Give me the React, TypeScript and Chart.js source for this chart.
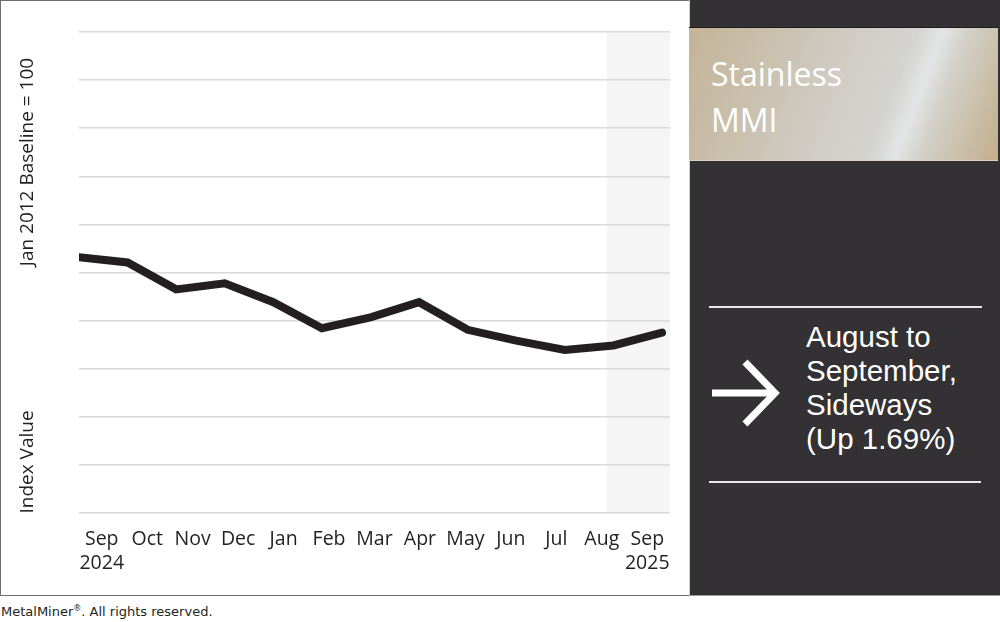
import React, { useEffect, useRef } from "react";
import { Chart, registerables } from "chart.js";

Chart.register(...registerables);

// ---- data ----
const months = ["Sep", "Oct", "Nov", "Dec", "Jan", "Feb", "Mar", "Apr", "May", "Jun", "Jul", "Aug", "Sep"];
const years = ["2024", "", "", "", "", "", "", "", "", "", "", "", "2025"];
const indexValues = [213.8, 212.5, 205.8, 207.3, 202.6, 196.1, 198.8, 202.6, 195.7, 193.0, 190.7, 191.8, 195.0];
const yMin = 150;
const yMax = 270;
const yStep = 12;
const highlightFrom = 10.86; // in month-index units (Aug onward shaded)
const xMaxIndex = 12.165;

const tickLabels = months.map((m, i) => (years[i] ? [m, years[i]] : m));

const TEXT = "#231f20";

const bandPlugin = {
  id: "band",
  beforeDraw(chart: any) {
    const { ctx, chartArea, scales } = chart;
    const x0 = scales.x.getPixelForValue(highlightFrom);
    ctx.save();
    ctx.fillStyle = "#f4f5f4";
    ctx.fillRect(x0, chartArea.top, chartArea.right - x0, chartArea.bottom - chartArea.top);
    ctx.restore();
  },
};

function MMIChart() {
  const ref = useRef<HTMLCanvasElement | null>(null);
  useEffect(() => {
    if (!ref.current) return;
    const chart = new Chart(ref.current, {
      type: "line",
      data: {
        datasets: [
          {
            data: indexValues.map((v, i) => ({ x: i, y: v })),
            borderColor: TEXT,
            borderWidth: 8,
            borderCapStyle: "round",
            borderJoinStyle: "miter",
            pointRadius: 0,
            tension: 0,
            fill: false,
          },
        ],
      },
      options: {
        animation: false,
        responsive: true,
        maintainAspectRatio: false,
        layout: { padding: { left: 79, right: 19, top: 32, bottom: 7 } },
        plugins: { legend: { display: false }, tooltip: { enabled: false } },
        scales: {
          x: {
            type: "linear",
            min: 0,
            max: xMaxIndex,
            display: false,
          },
          x2: {
            type: "category",
            position: "bottom",
            labels: tickLabels as any,
            offset: true,
            grid: { display: false, drawTicks: false },
            border: { display: false },
            ticks: {
              color: TEXT,
              padding: 14,
              maxRotation: 0,
              autoSkip: false,
              font: { family: "'Open Sans', sans-serif", size: 19.5, lineHeight: 1.23 },
            },
          },
          y: {
            min: yMin,
            max: yMax,
            ticks: { display: false, stepSize: yStep },
            border: { display: false },
            grid: { color: "#dadada", lineWidth: 1.6, drawTicks: false },
          },
        },
      },
      plugins: [bandPlugin],
    });
    return () => chart.destroy();
  }, []);
  return <canvas ref={ref} />;
}

export default function App() {
  const rotated: React.CSSProperties = {
    position: "absolute",
    left: 26,
    transform: "translate(-50%, -50%) rotate(-90deg)",
    whiteSpace: "nowrap",
    fontFamily: "'Open Sans', sans-serif",
    fontSize: 19,
    color: TEXT,
    lineHeight: "20px",
  };
  return (
    <div style={{ position: "fixed", left: 0, top: 0, width: 1000, height: 622, background: "#fff", overflow: "hidden" }}>
      {/* left panel */}
      <div
        style={{
          position: "absolute",
          left: 0,
          top: 0,
          width: 689,
          height: 596,
          boxSizing: "border-box",
          borderTop: "1.5px solid #6e6e6e",
          borderLeft: "1.5px solid #6e6e6e",
          borderBottom: "1.5px solid #6e6e6e",
        }}
      />
      <div style={{ position: "absolute", left: 0, top: 0, width: 689, height: 596 }}>
        <MMIChart />
      </div>
      <div style={{ ...rotated, top: 161.5 }}>Jan 2012 Baseline = 100</div>
      <div style={{ ...rotated, top: 461.5 }}>Index Value</div>

      {/* right panel */}
      <div
        style={{
          position: "absolute",
          left: 689,
          top: 0,
          width: 311,
          height: 596,
          boxSizing: "border-box",
          background: "#333133",
          borderLeft: "1px solid #d0d0d0",
          borderBottom: "1.5px solid #9a9a9a",
        }}
      />
      <div
        style={{
          position: "absolute",
          left: 689,
          top: 27,
          width: 309,
          height: 134,
          boxSizing: "border-box",
          borderTop: "1px solid #1e1c1e",
          borderBottom: "1px solid #d9d3c6",
          background:
            "linear-gradient(111deg, #c4b498 0%, #c9bfab 22%, #d0ccc4 45%, #d4d4d1 64%, #e3e5e5 71%, #d3d0c8 78%, #c9bda6 90%, #c2ae8c 100%)",
        }}
      />
      <div
        style={{
          position: "absolute",
          left: 711,
          top: 51,
          color: "#ffffff",
          fontFamily: "'Open Sans', sans-serif",
          fontSize: 32,
          lineHeight: "46px",
        }}
      >
        Stainless
        <br />
        MMI
      </div>

      <div style={{ position: "absolute", left: 709, top: 306, width: 273, height: 2, background: "#e8e8e8" }} />
      <div style={{ position: "absolute", left: 709, top: 481, width: 272, height: 2, background: "#e8e8e8" }} />

      <svg style={{ position: "absolute", left: 708, top: 356 }} width={80} height={76}>
        <line x1={4} y1={37} x2={64} y2={37} stroke="#ffffff" strokeWidth={7} />
        <polyline points="37,6 67,37 37,68" fill="none" stroke="#ffffff" strokeWidth={7} strokeLinejoin="miter" />
      </svg>

      <div
        style={{
          position: "absolute",
          left: 806,
          top: 320,
          color: "#ffffff",
          fontFamily: "'Liberation Sans', Arial, sans-serif",
          fontSize: 29.5,
          lineHeight: "34px",
          whiteSpace: "nowrap",
        }}
      >
        August to
        <br />
        September,
        <br />
        Sideways
        <br />
        (Up 1.69%)
      </div>

      {/* footer */}
      <div
        style={{
          position: "absolute",
          left: 1,
          top: 604,
          fontFamily: "'DejaVu Sans', Verdana, sans-serif",
          fontSize: 13,
          lineHeight: "15px",
          color: TEXT,
          whiteSpace: "nowrap",
        }}
      >
        MetalMiner<sup style={{ fontSize: 8, lineHeight: 0 }}>®</sup>. All rights reserved.
      </div>
    </div>
  );
}
